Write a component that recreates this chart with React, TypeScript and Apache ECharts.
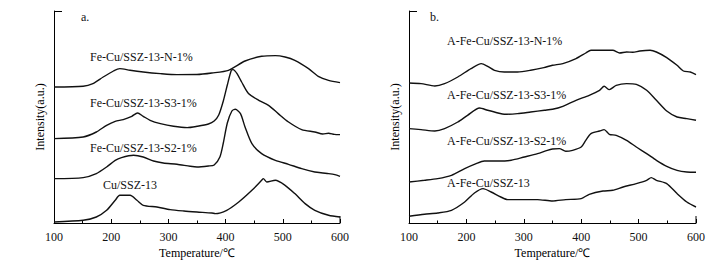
import React, { useEffect, useRef } from "react";
import * as echarts from "echarts";

// Temperature (°C) / intensity (a.u.) pairs
const leftN: number[][] = [[100,136],[151,136.7],[168,139.4],[186,146],[204,152],[215,154.4],[233,152.7],[256,151],[286,149.4],[315,148.4],[350,148.5],[376,150],[405,152.7],[434,162],[463,166.7],[487,167.4],[504,166],[521,162.7],[545,154.4],[562,146.7],[580,142.7],[600,140.4]];
const leftS3: number[][] = [[100,84.4],[151,86],[174,91],[192,97.7],[207,101.7],[221,103.4],[236,106.7],[246,110],[256,106.7],[268,102.7],[286,99.4],[309,96.7],[333,95.4],[350,96.7],[370,99],[380,102],[388,108],[396,122],[403,138],[410,152.7],[413,153.4],[420,149.4],[428,141],[440,129.4],[458,122.7],[475,117.7],[492,109.4],[510,101],[533,93.4],[556,91],[570,89],[580,89.8],[590,88.6],[600,88.4]];
const leftS2: number[][] = [[100,44.4],[151,45.4],[174,49.4],[192,56],[207,62.7],[218,65.4],[239,67.7],[256,66],[274,62],[291,60],[315,58.7],[338,56.7],[350,56],[370,57],[380,58],[390,66],[396,80],[403,100],[411,112],[417,113.7],[426,109.4],[434,96],[446,79.4],[463,69.4],[487,62.7],[510,58.7],[533,54.4],[556,51],[570,50],[580,49.4],[591,48.4],[600,46.7]];
const leftCu: number[][] = [[100,1],[151,2.7],[174,6],[192,12.7],[207,22.7],[215,27.7],[233,27.7],[245,22.7],[256,17.7],[280,16],[303,13.4],[327,12],[350,11],[376,10],[382,9.4],[402,12.7],[423,21],[446,32.7],[463,42.7],[466,44.4],[472,41],[487,42.7],[504,37.7],[521,29.4],[539,19.4],[556,12.7],[580,7.7],[600,6]];

const rightN: number[][] = [[100,140],[121,139.4],[145,137],[162,139.4],[185,146],[208,154.4],[226,159.4],[237,156.7],[249,152.7],[266,151],[289,151],[312,152.7],[335,155.4],[350,157.7],[368,159.4],[391,164.4],[408,170],[417,172.7],[438,172.7],[455,172.7],[467,170],[479,171],[490,170.7],[502,172],[520,172.7],[531,171],[549,165.4],[567,157.7],[578,152],[590,151],[600,148.4]];
const rightS3: number[][] = [[100,94.4],[121,93.4],[145,92],[162,94.4],[185,101],[202,107.7],[223,115],[237,112.7],[255,110],[266,108.7],[289,109.4],[312,111],[336,112.7],[350,113.7],[368,116.7],[391,122.7],[414,127.7],[432,132.7],[440,136.7],[449,133.4],[461,137.7],[479,139.4],[496,138.7],[514,132.7],[531,122.7],[549,112],[567,106],[584,104.4],[600,102.7]];
const rightS2: number[][] = [[100,41],[127,42.7],[150,44.4],[174,47.7],[197,54.4],[217,59.4],[231,62],[255,62],[278,62.7],[301,66],[324,69.4],[341,72.7],[350,74],[362,74.4],[373,71.7],[385,72.7],[400,76],[408,82.7],[417,89.4],[432,92],[440,93.4],[449,88.7],[461,87.7],[479,82.7],[496,76],[514,69.4],[531,62.7],[549,56.7],[567,52.7],[584,51],[600,50.7]];
const rightCu: number[][] = [[100,6.7],[127,8.7],[150,10],[174,12.7],[197,21],[214,30],[229,34.4],[243,31],[260,26],[272,23.4],[295,23.4],[324,23.4],[350,22],[373,23.4],[400,24.4],[414,28.7],[438,32],[455,32.7],[473,36],[496,39.4],[514,42.7],[522,45.4],[531,42.7],[549,39.4],[567,29.4],[584,21],[600,16]];

const leftNames = ["Fe-Cu/SSZ-13-N-1%", "Fe-Cu/SSZ-13-S3-1%", "Fe-Cu/SSZ-13-S2-1%", "Cu/SSZ-13"];
const rightNames = ["A-Fe-Cu/SSZ-13-N-1%", "A-Fe-Cu/SSZ-13-S3-1%", "A-Fe-Cu/SSZ-13-S2-1%", "A-Fe-Cu/SSZ-13"];
const panelTags = ["a.", "b."];
const xTickLabels = [100, 200, 300, 400, 500, 600];
const xTitle = "Temperature/℃";
const yTitle = "Intensity(a.u.)";
const xMin = 100;
const xMax = 600;
const xStep = 100;
const yMax = 212;

const FONT = '"Liberation Serif", "Times New Roman", serif';
const INK = "#000000";

export default function App() {
  const ref = useRef<HTMLDivElement>(null);
  useEffect(() => {
    if (!ref.current) return;
    const chart = echarts.init(ref.current, undefined, { renderer: "svg" });
    const grids = [
      { left: 54, top: 11, width: 286, height: 212 },
      { left: 409, top: 11, width: 287, height: 212 },
    ];
    const mkX = (gi: number) => ({
      type: "value",
      gridIndex: gi,
      min: xMin,
      max: xMax,
      interval: xStep,
      name: xTitle,
      nameLocation: "middle",
      nameGap: 24,
      nameTextStyle: { fontFamily: FONT, fontSize: 12, color: INK },
      axisLine: { show: true, lineStyle: { color: "#000", width: 1 } },
      axisTick: { show: true, inside: true, length: 4, lineStyle: { color: "#000" } },
      minorTick: { show: true, splitNumber: 2, length: 2.5, lineStyle: { color: "#000" } },
      splitLine: { show: false },
      axisLabel: { show: false },
    });
    const mkY = (gi: number) => ({
      type: "value",
      gridIndex: gi,
      min: 0,
      max: yMax,
      interval: yMax,
      name: yTitle,
      nameLocation: "middle",
      nameRotate: 90,
      nameGap: 8,
      nameTextStyle: { fontFamily: FONT, fontSize: 12, color: INK },
      axisLine: { show: true, lineStyle: { color: "#000", width: 1 } },
      axisTick: { show: true, inside: true, length: 8, lineStyle: { color: "#000" } },
      axisLabel: { show: false },
      splitLine: { show: false },
    });
    const mkS = (data: number[][], gi: number) => ({
      type: "line",
      xAxisIndex: gi,
      yAxisIndex: gi,
      data,
      showSymbol: false,
      smooth: 0.25,
      lineStyle: { color: "#111", width: 1.4 },
    });
    const labelText = (text: string, x: number, y: number, align = "left") => ({
      type: "text",
      x,
      y,
      silent: true,
      style: { text, font: `12px ${FONT}`, fill: "#111", verticalAlign: "middle", align },
    });
    const leftLabelPos = [[90, 57], [90, 103], [90, 148], [103, 185]];
    const rightLabelPos = [[447, 41], [447, 95], [447, 141], [447, 183]];
    const graphics: any[] = [
      ...leftNames.map((n, i) => labelText(n, leftLabelPos[i][0], leftLabelPos[i][1])),
      ...rightNames.map((n, i) => labelText(n, rightLabelPos[i][0], rightLabelPos[i][1])),
      labelText(panelTags[0], 81, 17),
      labelText(panelTags[1], 430, 17),
    ];
    chart.setOption({
      animation: false,
      backgroundColor: "#fff",
      textStyle: { color: INK, fontFamily: FONT },
      grid: grids,
      xAxis: [mkX(0), mkX(1)],
      yAxis: [mkY(0), mkY(1)],
      series: [
        mkS(leftN, 0), mkS(leftS3, 0), mkS(leftS2, 0), mkS(leftCu, 0),
        mkS(rightN, 1), mkS(rightS3, 1), mkS(rightS2, 1), mkS(rightCu, 1),
      ],
    });
    const extra: any[] = [];
    [0, 1].forEach((gi) => {
      const p = chart.convertToPixel({ gridIndex: gi } as any, [xMax, 0]) as number[];
      extra.push({
        type: "line",
        silent: true,
        shape: { x1: p[0], y1: p[1], x2: p[0], y2: p[1] - 7 },
        style: { stroke: "#000", lineWidth: 1 },
      });
      xTickLabels.forEach((t) => {
        const q = chart.convertToPixel({ gridIndex: gi } as any, [t, 0]) as number[];
        extra.push({
          type: "text",
          x: q[0],
          y: q[1] + 14,
          silent: true,
          style: { text: String(t), font: `12px ${FONT}`, fill: "#111", align: "center", verticalAlign: "middle" },
        });
      });
    });
    chart.setOption({ graphic: [...graphics, ...extra] });
    return () => chart.dispose();
  }, []);
  return (
    <div
      ref={ref}
      style={{ position: "fixed", left: 0, top: 0, width: 728, height: 270, background: "#fff" }}
    />
  );
}
